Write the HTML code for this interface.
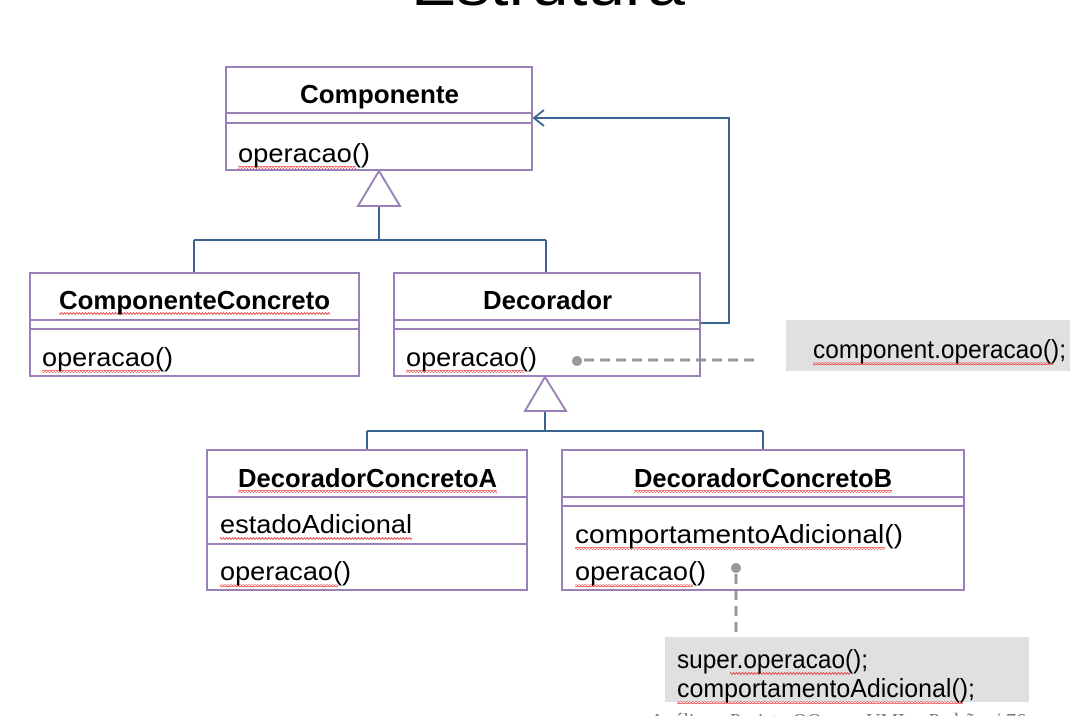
<!DOCTYPE html>
<html><head><meta charset="utf-8"><style>
html,body{margin:0;padding:0;background:#fff;width:1070px;height:716px;overflow:hidden}
text{font-family:"Liberation Sans",sans-serif;fill:#000}
</style></head><body>
<svg width="1070" height="716" viewBox="0 0 1070 716" xmlns="http://www.w3.org/2000/svg">
<defs>
<pattern id="sq" width="6" height="3" patternUnits="userSpaceOnUse"><path d="M0 2.5 L1.5 0.5 L3 2.5 L4.5 0.5 L6 2.5" stroke="#e33" stroke-width="0.8" fill="none"/></pattern>
</defs>
<text x="411" y="5" font-size="58" textLength="274" lengthAdjust="spacingAndGlyphs">Estrutura</text>

<rect x="786" y="320" width="284" height="51" fill="#e0e0e0"/>
<rect x="665" y="637" width="364" height="65" fill="#e0e0e0"/>

<g stroke="#3a6592" stroke-width="2" fill="none">
<path d="M379 206 V240 M194 240 H546 M194 240 V273 M546 240 V273"/>
<path d="M700 323 H729 V118 H534"/>
<path d="M544 110 L534 118 L544 126"/>
<path d="M545 411 V431 M367 431 H763 M367 431 V450 M763 431 V450"/>
</g>
<g fill="#fff" stroke="#9a80b8" stroke-width="2">
<polygon points="379,171 358,206 400,206"/>
<polygon points="545,377 525,411 566,411"/>
</g>
<g stroke="#999" stroke-width="3" fill="none" stroke-dasharray="10,6">
<path d="M584 360 H756"/>
<path d="M736 574 V637"/>
</g>
<circle cx="577" cy="361" r="5" fill="#999"/>
<circle cx="736" cy="568" r="5" fill="#999"/>

<g fill="none" stroke="#9a80b8" stroke-width="2">
<rect x="226" y="67" width="306" height="103"/><path d="M226 113 H532 M226 123 H532"/>
<rect x="30" y="273" width="329" height="103"/><path d="M30 320 H359 M30 329 H359"/>
<rect x="394" y="273" width="306" height="103"/><path d="M394 320 H700 M394 329 H700"/>
<rect x="207" y="450" width="320" height="140"/><path d="M207 497 H527 M207 544 H527"/>
<rect x="562" y="450" width="402" height="140"/><path d="M562 497 H964 M562 506 H964"/>
</g>

<g fill="url(#sq)">
<rect x="238" y="166" width="118" height="3"/>
<rect x="59" y="312" width="271" height="3"/>
<rect x="42" y="370" width="118" height="3"/>
<rect x="406" y="370" width="118" height="3"/>
<rect x="238" y="490" width="259" height="3"/>
<rect x="220" y="537" width="192" height="3"/>
<rect x="220" y="584" width="118" height="3"/>
<rect x="634" y="490" width="258" height="3"/>
<rect x="575" y="547" width="310" height="3"/>
<rect x="575" y="584" width="118" height="3"/>
<rect x="813" y="362" width="240" height="3"/>
<rect x="730" y="672" width="120" height="3"/>
<rect x="677" y="701" width="286" height="3"/>
</g>

<g font-size="26">
<text x="300" y="103" font-weight="bold" textLength="159" lengthAdjust="spacingAndGlyphs">Componente</text>
<text x="238" y="162" textLength="132" lengthAdjust="spacingAndGlyphs">operacao()</text>
<text x="59" y="309" font-weight="bold" textLength="271" lengthAdjust="spacingAndGlyphs">ComponenteConcreto</text>
<text x="42" y="366" textLength="131" lengthAdjust="spacingAndGlyphs">operacao()</text>
<text x="483" y="309" font-weight="bold" textLength="129" lengthAdjust="spacingAndGlyphs">Decorador</text>
<text x="406" y="366" textLength="131" lengthAdjust="spacingAndGlyphs">operacao()</text>
<text x="238" y="487" font-weight="bold" textLength="259" lengthAdjust="spacingAndGlyphs">DecoradorConcretoA</text>
<text x="220" y="533" textLength="192" lengthAdjust="spacingAndGlyphs">estadoAdicional</text>
<text x="220" y="580" textLength="131" lengthAdjust="spacingAndGlyphs">operacao()</text>
<text x="634" y="487" font-weight="bold" textLength="258" lengthAdjust="spacingAndGlyphs">DecoradorConcretoB</text>
<text x="575" y="543" textLength="328" lengthAdjust="spacingAndGlyphs">comportamentoAdicional()</text>
<text x="575" y="580" textLength="131" lengthAdjust="spacingAndGlyphs">operacao()</text>
<text x="813" y="358" textLength="253" lengthAdjust="spacingAndGlyphs">component.operacao();</text>
<text x="677" y="668" textLength="191" lengthAdjust="spacingAndGlyphs">super.operacao();</text>
<text x="677" y="697" textLength="298" lengthAdjust="spacingAndGlyphs">comportamentoAdicional();</text>
</g>
<text x="650" y="727" font-size="20" style="font-family:'Liberation Serif',serif;fill:#777" textLength="376" lengthAdjust="spacingAndGlyphs">Análise e Projeto OO com UML e Padrões | 76</text>
</svg>
</body></html>
